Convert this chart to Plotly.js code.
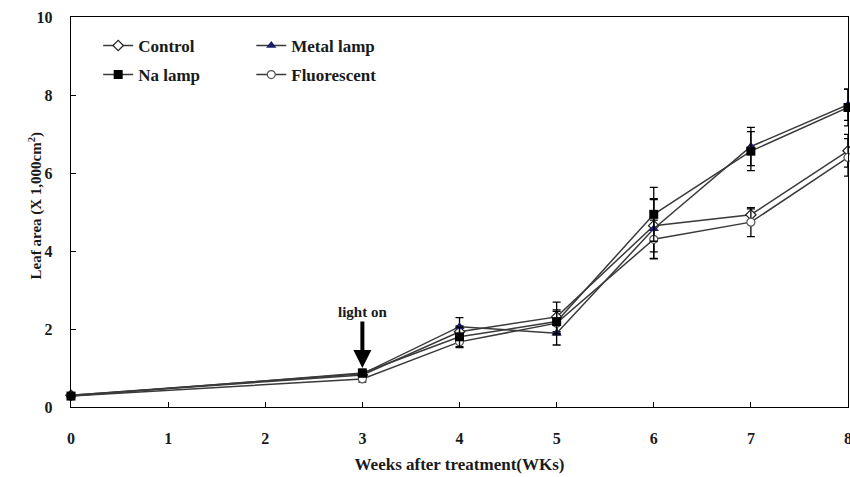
<!DOCTYPE html>
<html>
<head>
<meta charset="utf-8">
<script src="https://cdn.plot.ly/plotly-3.0.1.min.js"></script>
<style>
  html, body { margin: 0; padding: 0; background: #fff; }
  #chart { width: 850px; height: 477px; }
</style>
</head>
<body>
<div id="chart"></div>
<script>
// Leaf area (x 1,000 cm²) by week after treatment, per light source
const weeks = [0, 3, 4, 5, 6, 7, 8];

const controlArea     = [0.30, 0.82, 1.93, 2.31, 4.65, 4.93, 6.57];
const metalLampArea   = [0.30, 0.85, 2.06, 1.89, 4.57, 6.68, 7.75];
const naLampArea      = [0.28, 0.87, 1.80, 2.19, 4.94, 6.56, 7.68];
const fluorescentArea = [0.28, 0.72, 1.67, 2.15, 4.30, 4.74, 6.40];

// Standard errors
const controlErr     = [0.02, 0.05, 0.15, 0.38, 0.67, 0.15, 0.42];
const metalLampErr   = [0.02, 0.05, 0.23, 0.30, 0.77, 0.49, 0.40];
const naLampErr      = [0.02, 0.10, 0.25, 0.30, 0.69, 0.50, 0.47];
const fluorescentErr = [0.02, 0.08, 0.15, 0.30, 0.49, 0.37, 0.48];

const xTicks = [0, 1, 2, 3, 4, 5, 6, 7, 8];
const yTicks = [0, 2, 4, 6, 8, 10];

const serif = '"Liberation Serif", "Times New Roman", serif';
const lineColor = '#3a3a3a';
const textColor = '#1a1a1a';

function series(name, y, err, marker, legend) {
  return {
    type: 'scatter',
    mode: 'lines+markers',
    name: name,
    x: weeks,
    y: y,
    legend: legend,
    legendgroup: name,
    line: { color: lineColor, width: 1.5 },
    marker: marker,
    error_y: { type: 'data', array: err, visible: true, color: '#000', thickness: 1.3, width: 4 },
    cliponaxis: false
  };
}

// Na lamp is listed last so its filled squares sit on top of the others
const traces = [
  series('Control', controlArea, controlErr,
    { symbol: 'diamond', size: 8, color: '#fff', line: { color: '#222', width: 1.2 } }, 'legend'),
  series('Metal lamp', metalLampArea, metalLampErr,
    { symbol: 'triangle-up', size: 9, color: '#1c1c6a', line: { color: '#1c1c6a', width: 0 } }, 'legend2'),
  series('Fluorescent', fluorescentArea, fluorescentErr,
    { symbol: 'circle', size: 8, color: '#fff', line: { color: '#555', width: 1.2 } }, 'legend2'),
  series('Na lamp', naLampArea, naLampErr,
    { symbol: 'square', size: 9, color: '#000', line: { color: '#000', width: 0 } }, 'legend')
];

const legendStyle = {
  orientation: 'v',
  yanchor: 'top',
  y: 0.972,
  bgcolor: 'rgba(0,0,0,0)',
  borderwidth: 0,
  itemwidth: 30,
  tracegroupgap: 4,
  font: { family: serif, size: 17, color: textColor, weight: 'bold' }
};

const tickFont = { family: serif, size: 16, color: textColor, weight: 'bold' };

const layout = {
  width: 850,
  height: 477,
  margin: { l: 71, r: 2, t: 17, b: 70 },
  paper_bgcolor: '#fff',
  plot_bgcolor: '#fff',
  showlegend: true,
  legend: Object.assign({}, legendStyle, { x: 0.035 }),
  legend2: Object.assign({}, legendStyle, { x: 0.232 }),
  xaxis: {
    range: [0, 8],
    tickvals: xTicks,
    ticktext: xTicks.map(String),
    ticks: 'inside',
    ticklen: 5,
    tickwidth: 1,
    tickcolor: '#000',
    ticklabelstandoff: 16,
    showgrid: false,
    zeroline: false,
    showline: true,
    linecolor: '#000',
    linewidth: 1.3,
    mirror: true,
    tickfont: tickFont,
    title: {
      text: 'Weeks after treatment(WKs)',
      standoff: 12,
      font: { family: serif, size: 17, color: textColor, weight: 'bold' }
    }
  },
  yaxis: {
    range: [0, 10],
    tickvals: yTicks,
    ticktext: yTicks.map(String),
    ticks: 'inside',
    ticklen: 5,
    tickwidth: 1,
    tickcolor: '#000',
    ticklabelstandoff: 14,
    showgrid: false,
    zeroline: false,
    showline: true,
    linecolor: '#000',
    linewidth: 1.3,
    mirror: true,
    tickfont: tickFont
  },
  annotations: [
    {
      // y-axis title, placed close to the tick labels
      xref: 'paper', yref: 'paper',
      x: -0.046, y: 0.515,
      xanchor: 'center', yanchor: 'middle',
      textangle: -90,
      showarrow: false,
      text: '<b>Leaf area (X 1,000cm<sup>2</sup>)</b>',
      font: { family: serif, size: 15, color: textColor }
    },
    {
      // last x tick label sits on the page edge
      xref: 'x', yref: 'paper',
      x: 8, y: 0, yshift: -21,
      xanchor: 'center', yanchor: 'top',
      showarrow: false,
      text: '<b>8</b>',
      font: tickFont
    },
    {
      x: 3, y: 1.0, xref: 'x', yref: 'y',
      text: '<b>light on</b>',
      showarrow: true,
      ax: 0, ay: -56,
      arrowhead: 2,
      arrowsize: 0.9,
      arrowwidth: 4,
      arrowcolor: '#000',
      standoff: 0,
      font: { family: serif, size: 15, color: textColor }
    }
  ]
};

Plotly.newPlot('chart', traces, layout, { displayModeBar: false, staticPlot: true });
</script>
</body>
</html>
